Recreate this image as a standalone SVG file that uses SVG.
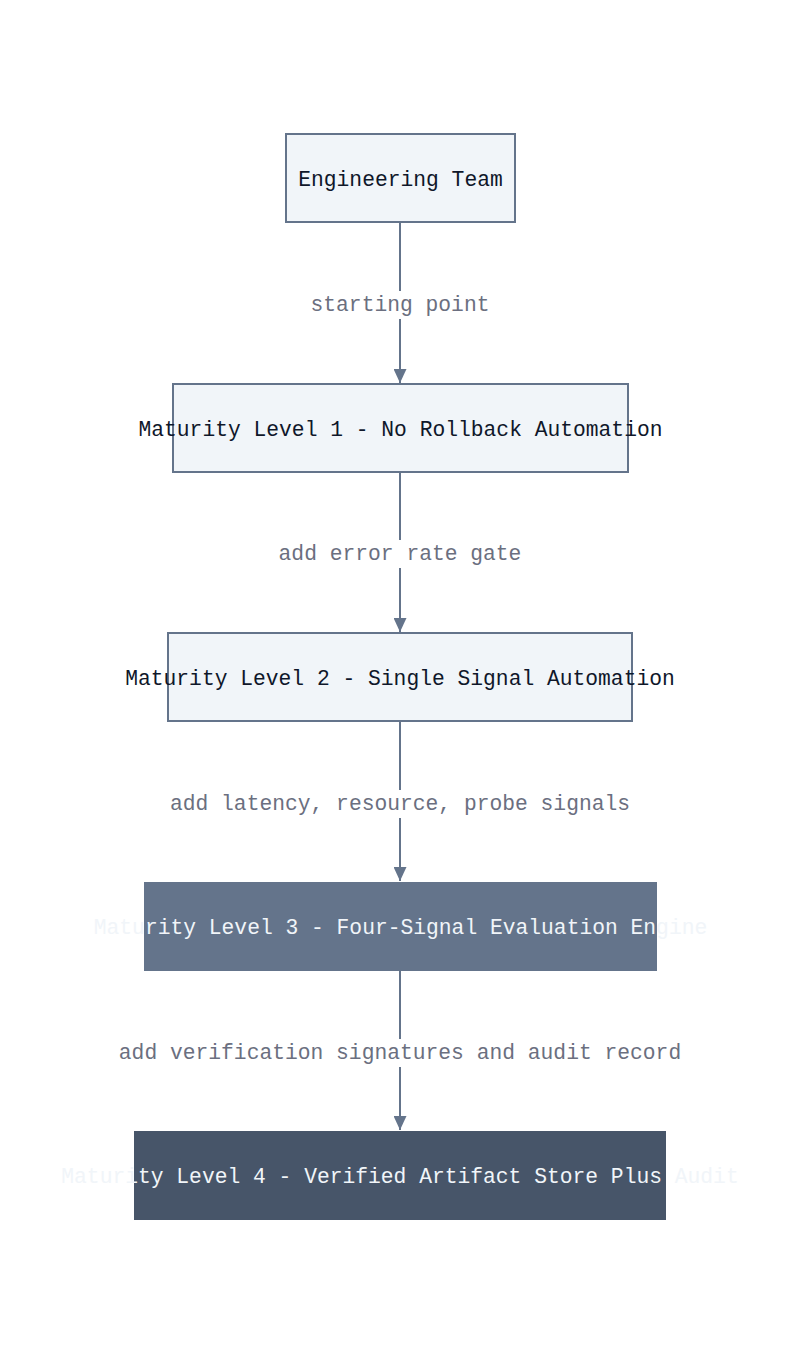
<svg xmlns="http://www.w3.org/2000/svg" width="800" height="1355" viewBox="0 0 800 1355">
<style>
.box{fill:#f1f5f9;stroke:#64748b;stroke-width:2}
.t{font-family:"Liberation Mono","DejaVu Sans Mono",monospace;font-size:21.3px;text-anchor:middle;dominant-baseline:central}
.dark{fill:#0f172a}
.light{fill:#f1f5f9}
.edge{stroke:#64748b;stroke-width:2;fill:none}
.lbl{font-family:"Liberation Mono","DejaVu Sans Mono",monospace;font-size:21.3px;text-anchor:middle;dominant-baseline:central;fill:#6b6f80}
.lbg{fill:#ffffff}
</style>
<defs>
<marker id="arr" viewBox="0 0 14 13" refX="14" refY="6.5" markerWidth="14" markerHeight="13" markerUnits="userSpaceOnUse" orient="auto"><path d="M0,0 L14,6.5 L0,13 z" fill="#64748b"/></marker>
</defs>
<rect width="800" height="1355" fill="#ffffff"/>
<g id="connectors">
<path class="edge" d="M400,222 V383" marker-end="url(#arr)"/>
<path class="edge" d="M400,472 V632" marker-end="url(#arr)"/>
<path class="edge" d="M400,721 V881" marker-end="url(#arr)"/>
<path class="edge" d="M400,971 V1130" marker-end="url(#arr)"/>
<rect class="lbg" x="306" y="291" width="188" height="28"/>
<text class="lbl" x="400" y="305">starting point</text>
<rect class="lbg" x="274" y="540" width="252" height="28"/>
<text class="lbl" x="400" y="554">add error rate gate</text>
<rect class="lbg" x="165" y="790" width="470" height="28"/>
<text class="lbl" x="400" y="804">add latency, resource, probe signals</text>
<rect class="lbg" x="114" y="1039" width="572" height="28"/>
<text class="lbl" x="400" y="1053">add verification signatures and audit record</text>
</g>
<g id="node-team">
<rect class="box" x="286" y="134" width="229" height="88"/>
<text class="t dark" x="400.5" y="180">Engineering Team</text>
</g>
<g id="node-l1">
<rect class="box" x="173" y="384" width="455" height="88"/>
<text class="t dark" x="400.5" y="430">Maturity Level 1 - No Rollback Automation</text>
</g>
<g id="node-l2">
<rect class="box" x="168" y="633" width="464" height="88"/>
<text class="t dark" x="400" y="679">Maturity Level 2 - Single Signal Automation</text>
</g>
<g id="node-l3">
<rect x="144" y="882" width="513" height="89" fill="#64748b"/>
<text class="t light" x="400.5" y="928">Maturity Level 3 - Four-Signal Evaluation Engine</text>
</g>
<g id="node-l4">
<rect x="134" y="1131" width="532" height="89" fill="#475569"/>
<text class="t light" x="400" y="1177">Maturity Level 4 - Verified Artifact Store Plus Audit</text>
</g>
</svg>
